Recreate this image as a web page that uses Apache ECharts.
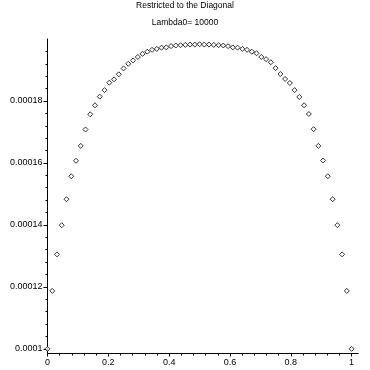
<!DOCTYPE html>
<html>
<head>
<meta charset="utf-8">
<script src="https://cdn.jsdelivr.net/npm/echarts@6/dist/echarts.min.js"></script>
<style>html,body{margin:0;padding:0;background:#fff}#c{width:370px;height:370px}</style>
</head>
<body>
<div id="c"></div>
<script>
var titleText = 'Restricted to the Diagonal';
var subTitleText = 'Lambda0= 10000';
var xValues = [0,0.015625,0.03125,0.046875,0.0625,0.078125,0.09375,0.109375,0.125,0.140625,0.15625,0.171875,0.1875,0.203125,0.21875,0.234375,0.25,0.265625,0.28125,0.296875,0.3125,0.328125,0.34375,0.359375,0.375,0.390625,0.40625,0.421875,0.4375,0.453125,0.46875,0.484375,0.5,0.515625,0.53125,0.546875,0.5625,0.578125,0.59375,0.609375,0.625,0.640625,0.65625,0.671875,0.6875,0.703125,0.71875,0.734375,0.75,0.765625,0.78125,0.796875,0.8125,0.828125,0.84375,0.859375,0.875,0.890625,0.90625,0.921875,0.9375,0.953125,0.96875,0.984375,1];
var yValues = [0.0001000,0.0001187,0.0001305,0.0001399,0.0001483,0.0001557,0.0001607,0.0001655,0.0001708,0.0001757,0.0001786,0.0001814,0.0001835,0.0001859,0.0001870,0.0001886,0.0001905,0.0001920,0.0001931,0.0001942,0.0001952,0.0001959,0.0001965,0.0001968,0.0001972,0.0001973,0.0001977,0.0001979,0.0001980,0.0001981,0.0001982,0.0001982,0.0001983,0.0001982,0.0001982,0.0001981,0.0001980,0.0001979,0.0001977,0.0001973,0.0001972,0.0001968,0.0001965,0.0001959,0.0001954,0.0001942,0.0001935,0.0001925,0.0001906,0.0001887,0.0001871,0.0001858,0.0001835,0.0001813,0.0001786,0.0001758,0.0001709,0.0001655,0.0001608,0.0001557,0.0001483,0.0001399,0.0001305,0.0001187,0.0001000];
var xMajorTicks = [0,0.2,0.4,0.6,0.8,1];
var xMinorTicks = [0.04,0.08,0.12,0.16,0.24,0.28,0.32,0.36,0.44,0.48,0.52,0.56,0.64,0.68,0.72,0.76,0.84,0.88,0.92,0.96];
var yMajorTicks = [0.0001,0.00012,0.00014,0.00016,0.00018];
var yMinorTicks = [0.000104,0.000108,0.000112,0.000116,0.000124,0.000128,0.000132,0.000136,0.000144,0.000148,0.000152,0.000156,0.000164,0.000168,0.000172,0.000176,0.000184,0.000188,0.000192,0.000196];
var xMin = 0, xMax = 1.022, yMin = 0.0000985, yMax = 0.0002;

var font = 'Liberation Sans';
var points = xValues.map(function(x, i){ return [x, yValues[i]]; });
function fmtY(v){ return String(parseFloat(v.toPrecision(6))); }
function fmtX(v){ return String(parseFloat(v.toFixed(4))); }

var chart = echarts.init(document.getElementById('c'), null, {renderer:'canvas'});
chart.setOption({
  animation: false,
  backgroundColor: '#fff',
  title: [
    {text: titleText, left: 'center', top: 1, padding: 0,
     textStyle: {fontSize: 8.5, fontWeight: 'normal', color: '#000', fontFamily: font}},
    {text: subTitleText, left: 'center', top: 18, padding: 0,
     textStyle: {fontSize: 8.5, fontWeight: 'normal', color: '#000', fontFamily: font}}
  ],
  grid: {left: 47.5, right: 11.7, top: 39, bottom: 16.5, containLabel: false},
  xAxis: [
    {type: 'value', min: xMin, max: xMax, position: 'bottom',
     axisLine: {show: true, onZero: false, lineStyle: {color: '#000', width: 1}},
     axisTick: {show: true, length: 3, inside: false, customValues: xMajorTicks, lineStyle: {color: '#000'}},
     axisLabel: {show: true, margin: 5, customValues: xMajorTicks, formatter: fmtX,
                 color: '#000', fontSize: 9, fontFamily: font},
     splitLine: {show: false}},
    {type: 'value', min: xMin, max: xMax, position: 'bottom',
     axisLine: {show: false, onZero: false},
     axisTick: {show: true, length: 2, customValues: xMinorTicks, lineStyle: {color: '#000'}},
     axisLabel: {show: false},
     splitLine: {show: false}}
  ],
  yAxis: [
    {type: 'value', min: yMin, max: yMax, position: 'left',
     axisLine: {show: true, onZero: false, lineStyle: {color: '#000', width: 1}},
     axisTick: {show: true, length: 4, customValues: yMajorTicks, lineStyle: {color: '#000'}},
     axisLabel: {show: true, margin: 5, customValues: yMajorTicks, formatter: fmtY,
                 color: '#000', fontSize: 9, fontFamily: font},
     splitLine: {show: false}},
    {type: 'value', min: yMin, max: yMax, position: 'left',
     axisLine: {show: false, onZero: false},
     axisTick: {show: true, length: 2, customValues: yMinorTicks, lineStyle: {color: '#000'}},
     axisLabel: {show: false},
     splitLine: {show: false}}
  ],
  series: [{
    type: 'scatter',
    xAxisIndex: 0, yAxisIndex: 0,
    data: points,
    symbol: 'diamond',
    symbolSize: 5,
    clip: false,
    itemStyle: {color: '#fff', borderColor: '#000', borderWidth: 1}
  }]
});
</script>
</body>
</html>
